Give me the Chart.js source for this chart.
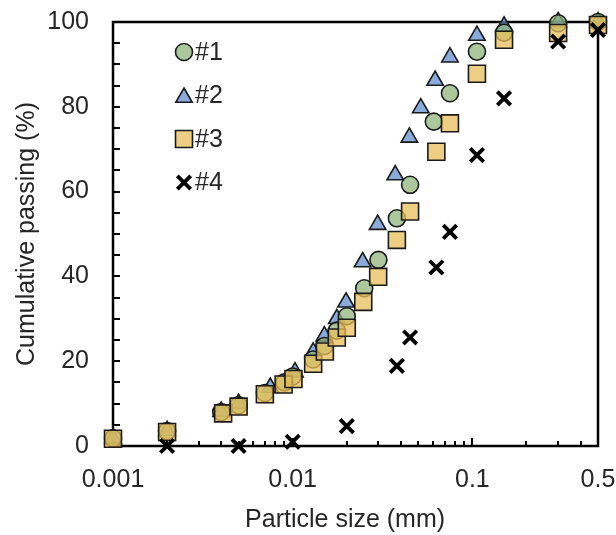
<!DOCTYPE html>
<html>
<head>
<meta charset="utf-8">
<script src="https://cdn.jsdelivr.net/npm/chart.js@4/dist/chart.umd.min.js"></script>
<style>
  html, body { margin: 0; padding: 0; background: #fff; }
  #wrap { width: 616px; height: 535px; }
</style>
</head>
<body>
<div id="wrap"><canvas id="psd" width="616" height="535"></canvas></div>
<script>
// Grain-size distribution of four samples (particle size in mm, cumulative % passing)
const seriesNames = ['#1', '#2', '#3', '#4'];

const sizes1   = [0.001, 0.002, 0.004, 0.005, 0.007, 0.009, 0.010, 0.013, 0.015, 0.0176, 0.020, 0.025, 0.030, 0.038, 0.045, 0.061, 0.075, 0.106, 0.15, 0.3, 0.5];
const passing1 = [1.8, 3.5, 8.0, 9.6, 12.5, 15.0, 16.4, 20.4, 23.6, 27.2, 30.6, 37.2, 43.9, 53.7, 61.6, 76.5, 83.2, 93.0, 97.5, 99.7, 100];

const sizes2   = [0.001, 0.002, 0.004, 0.005, 0.0075, 0.0103, 0.013, 0.015, 0.0176, 0.0198, 0.0245, 0.0297, 0.0372, 0.0446, 0.0516, 0.062, 0.075, 0.106, 0.15, 0.3, 0.5];
const passing2 = [1.8, 3.6, 8.1, 10.0, 13.8, 17.4, 22.1, 25.9, 30.0, 33.9, 43.4, 52.2, 63.9, 72.8, 79.7, 86.2, 91.7, 96.8, 99.0, 100, 100];

const sizes3   = [0.001, 0.002, 0.0041, 0.005, 0.007, 0.0089, 0.0101, 0.013, 0.0151, 0.0176, 0.020, 0.0247, 0.0299, 0.038, 0.045, 0.063, 0.075, 0.106, 0.15, 0.3, 0.5];
const passing3 = [1.7, 3.3, 7.7, 9.3, 12.2, 14.5, 15.8, 19.4, 22.3, 25.6, 27.9, 34.0, 39.9, 48.6, 55.3, 69.4, 76.1, 87.8, 95.8, 97.4, 99.3];

const sizes4   = [0.002, 0.005, 0.01, 0.02, 0.038, 0.045, 0.063, 0.075, 0.106, 0.15, 0.3, 0.5];
const passing4 = [0, 0, 1.0, 4.7, 18.9, 25.6, 42.1, 50.5, 68.6, 82.0, 95.4, 98.1];

// Axis ticks
const xMajorTicks  = [0.001, 0.01, 0.1, 0.5];
const xMajorLabels = ['0.001', '0.01', '0.1', '0.5'];
const xMinorTicks  = [0.002, 0.003, 0.004, 0.005, 0.006, 0.007, 0.008, 0.009,
                      0.02, 0.03, 0.04, 0.05, 0.06, 0.07, 0.08, 0.09,
                      0.2, 0.3, 0.4];
const yMajorTicks  = [0, 20, 40, 60, 80, 100];
const yMinorStep   = 5;

const FONT = "'Liberation Sans', Arial, sans-serif";
const TEXT = '#262626';

const toPoints = (xs, ys) => xs.map((x, i) => ({ x: x, y: ys[i] }));

// Inside tick marks plus a full frame around the plot area
const framePlugin = {
  id: 'frame',
  beforeDatasetsDraw(chart) {
    const { ctx, chartArea: a, scales } = chart;
    const xs = scales.x, ys = scales.y;
    ctx.save();
    ctx.strokeStyle = '#000';
    ctx.lineWidth = 2;
    ctx.beginPath();
    xs.ticks.forEach(t => {
      const px = Math.round(xs.getPixelForValue(t.value));
      const len = xMajorTicks.includes(t.value) ? 8 : 5;
      ctx.moveTo(px, a.bottom);
      ctx.lineTo(px, a.bottom - len);
    });
    ys.ticks.forEach(t => {
      const py = Math.round(ys.getPixelForValue(t.value));
      ctx.moveTo(a.left, py);
      ctx.lineTo(a.left + 7, py);
    });
    ctx.stroke();
    ctx.lineWidth = 2.5;
    ctx.strokeRect(a.left, a.top, a.right - a.left, a.bottom - a.top);
    ctx.restore();
  }
};

// Vertical legend placed inside the plot area
const legendPlugin = {
  id: 'innerLegend',
  afterDraw(chart) {
    const { ctx } = chart;
    const x0 = 184, y0 = 52, rowGap = 43.5;
    ctx.save();
    chart.data.datasets.forEach((ds, i) => {
      const y = y0 + i * rowGap;
      ctx.fillStyle = ds.pointBackgroundColor;
      ctx.strokeStyle = ds.pointBorderColor;
      ctx.lineWidth = ds.pointBorderWidth;
      const opts = { pointStyle: ds.pointStyle, radius: ds.pointRadius, rotation: 0, borderWidth: ds.pointBorderWidth };
      const py = ds.pointStyle === 'triangle' ? y + 2 : y;
      Chart.helpers.drawPoint(ctx, opts, x0, py);
      ctx.fillStyle = TEXT;
      ctx.font = '25px ' + FONT;
      ctx.textBaseline = 'middle';
      ctx.textAlign = 'left';
      ctx.fillText(ds.label, x0 + 11, y + 1);
    });
    ctx.restore();
  }
};

// Keep the plot area fixed: labels may overhang into the outer margin
function noEdgePadding(scale) {
  scale.paddingTop = 0;
  scale.paddingBottom = 0;
  scale.paddingLeft = 0;
  scale.paddingRight = 0;
}

const chart = new Chart(document.getElementById('psd'), {
  type: 'scatter',
  data: {
    datasets: [
      {
        label: seriesNames[0], data: toPoints(sizes1, passing1), order: 3, clip: false,
        pointStyle: 'circle', pointRadius: 8.5, pointHoverRadius: 8.5,
        pointBackgroundColor: 'rgba(140,178,118,0.72)', pointBorderColor: '#1a1a1a', pointBorderWidth: 1.6
      },
      {
        label: seriesNames[1], data: toPoints(sizes2, passing2), order: 4, clip: false,
        pointStyle: 'triangle', pointRadius: 9.5, pointHoverRadius: 9.5,
        pointBackgroundColor: 'rgba(96,140,206,0.74)', pointBorderColor: '#1a1a1a', pointBorderWidth: 1.6
      },
      {
        label: seriesNames[2], data: toPoints(sizes3, passing3), order: 2, clip: false,
        pointStyle: 'rect', pointRadius: 12, pointHoverRadius: 12,
        pointBackgroundColor: 'rgba(232,190,90,0.75)', pointBorderColor: '#1a1a1a', pointBorderWidth: 1.6
      },
      {
        label: seriesNames[3], data: toPoints(sizes4, passing4), order: 1, clip: false,
        pointStyle: 'crossRot', pointRadius: 9.5, pointHoverRadius: 9.5,
        pointBackgroundColor: '#000', pointBorderColor: '#000', pointBorderWidth: 3.8
      }
    ]
  },
  options: {
    responsive: false,
    animation: false,
    devicePixelRatio: 1,
    layout: { padding: { top: 22, right: 18, left: 0, bottom: 0 } },
    plugins: { legend: { display: false }, tooltip: { enabled: false } },
    scales: {
      x: {
        type: 'logarithmic',
        min: 0.001,
        max: 0.5,
        afterBuildTicks(scale) {
          scale.ticks = xMajorTicks.concat(xMinorTicks).sort((a, b) => a - b).map(v => ({ value: v }));
        },
        afterFit(scale) { scale.height = 89; noEdgePadding(scale); },
        grid: { display: false },
        border: { display: false },
        ticks: {
          autoSkip: false, maxRotation: 0, padding: 11,
          color: TEXT, font: { family: FONT, size: 25 },
          callback(value) {
            const k = xMajorTicks.indexOf(value);
            return k >= 0 ? xMajorLabels[k] : '';
          }
        },
        title: {
          display: true, text: 'Particle size (mm)   ', color: TEXT,
          font: { family: FONT, size: 25 }, padding: { top: 0, bottom: 0 }
        }
      },
      y: {
        min: 0,
        max: 100,
        afterFit(scale) { scale.width = 113; noEdgePadding(scale); },
        grid: { display: false },
        border: { display: false },
        ticks: {
          stepSize: yMinorStep, autoSkip: false, padding: 16,
          color: TEXT, font: { family: FONT, size: 25 },
          callback(value) { return yMajorTicks.includes(value) ? String(value) : ''; }
        },
        title: {
          display: true, text: 'Cumulative passing (%)', color: TEXT,
          font: { family: FONT, size: 25 }, padding: { top: 12, bottom: 0 }
        }
      }
    }
  },
  plugins: [framePlugin, legendPlugin]
});
</script>
</body>
</html>
